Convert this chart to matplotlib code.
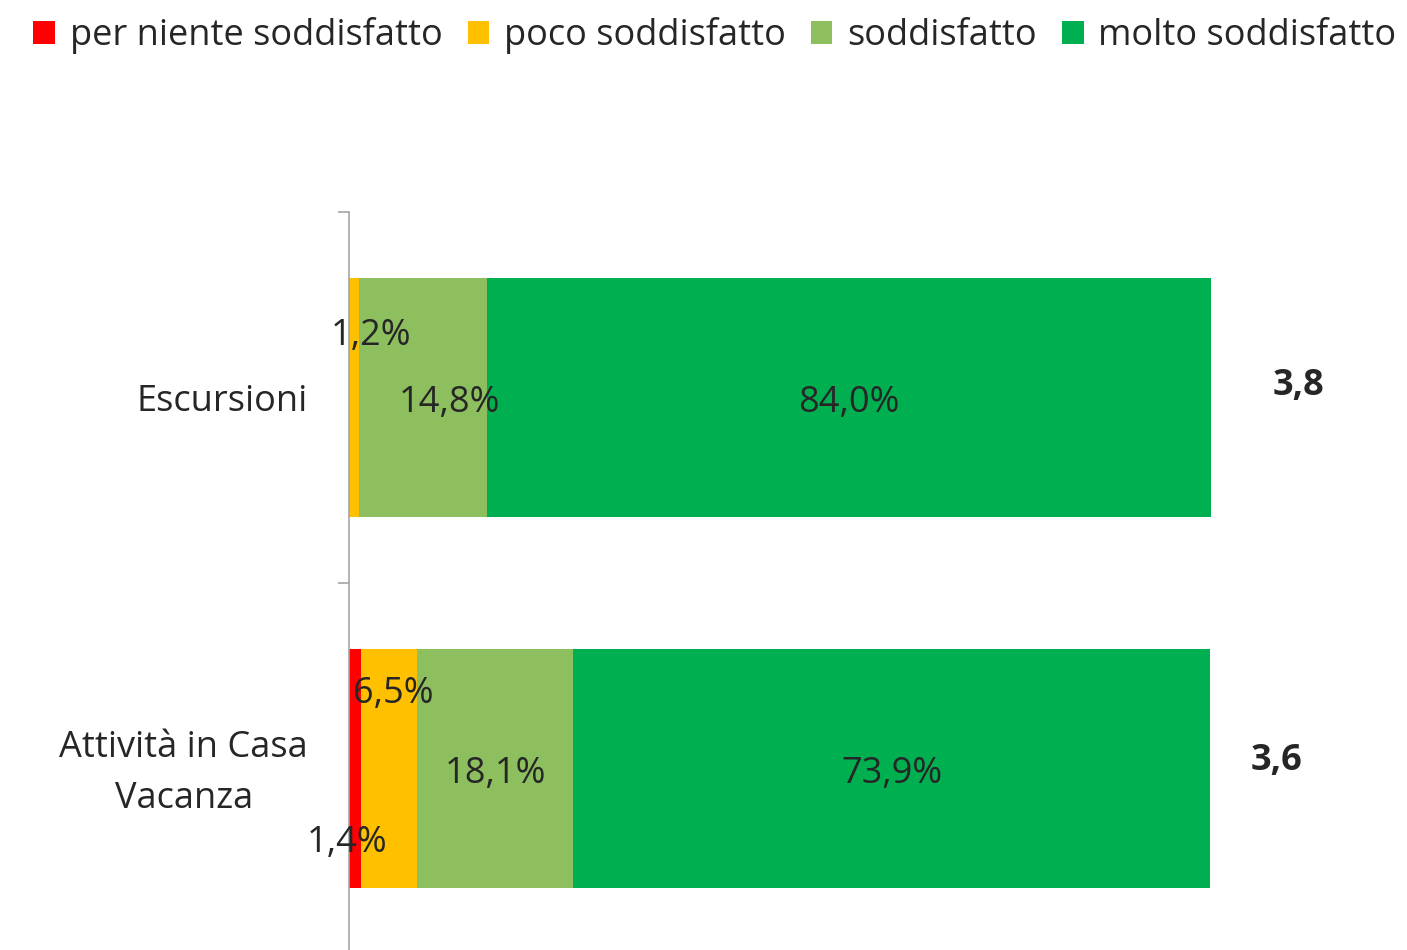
import matplotlib.pyplot as plt
import matplotlib.transforms as mtransforms
import numpy as np
from matplotlib.patches import Patch

plt.rcParams['font.family'] = ['Open Sans', 'DejaVu Sans']

categories = ["Escursioni", "Attività in Casa\nVacanza"]
series_names = ["per niente soddisfatto", "poco soddisfatto", "soddisfatto", "molto soddisfatto"]
per_niente = [0.0, 1.4]
poco = [1.2, 6.5]
soddisfatto = [14.8, 18.1]
molto = [84.0, 73.9]
scores = ["3,8", "3,6"]

colors = ["#FF0000", "#FFC000", "#8DBF5F", "#00B050"]
txt = "#262626"
fs = 26

values = [per_niente, poco, soddisfatto, molto]
# label offsets (x in %, y in category units) to mimic the original placement
offsets = {
    (0, 1): (2.0, -0.18),
    (0, 2): (3.1, 0.0),
    (1, 0): (-0.9, 0.185),
    (1, 1): (0.5, -0.215),
}

fig = plt.figure(figsize=(14.07, 9.5), dpi=100)
ax = fig.add_axes([349 / 1407, -4 / 950, 862 / 1407, 742 / 950])

y = np.arange(len(categories))
left = np.zeros(len(categories))
for s, vals in enumerate(values):
    vals = np.array(vals)
    ax.barh(y, vals, left=left, height=0.645, color=colors[s], label=series_names[s])
    for i, v in enumerate(vals):
        if v <= 0:
            continue
        dx, dy = offsets.get((i, s), (0.0, 0.0))
        ax.text(left[i] + v / 2 + dx, y[i] + dy + 0.015, f"{v:.1f}%".replace(".", ","),
                ha="center", va="center", fontsize=fs, color=txt)
    left += vals

score_x = [110.2, 107.6]
score_dy = [-0.032, -0.02]
for i, sc in enumerate(scores):
    ax.text(score_x[i], y[i] + score_dy[i], sc, ha="center", va="center",
            fontsize=fs, fontweight="bold", color=txt)

ax.set_xlim(0, 100)
ax.set_ylim(1.5, -0.5)
ax.set_xticks([])
ax.set_yticks(y)
ax.set_yticklabels(categories, fontsize=fs, color=txt, multialignment="center",
                   linespacing=1.55)
ax.tick_params(axis="y", which="major", length=0, pad=29.5)
# nudge the two-line label up a little, as in the original
lab = ax.get_yticklabels()[1]
lab.set_transform(lab.get_transform() + mtransforms.ScaledTranslation(0, 7 / 100, fig.dpi_scale_trans))
ax.set_yticks([-0.5, 0.5, 1.5], minor=True)
ax.tick_params(axis="y", which="minor", length=8, color="#A6A6A6", width=1.2)
for sp in ["top", "right", "bottom"]:
    ax.spines[sp].set_visible(False)
ax.spines["left"].set_color("#A6A6A6")
ax.spines["left"].set_linewidth(1.2)

handles = [Patch(facecolor=c, label=n) for c, n in zip(colors, series_names)]
fig.legend(handles=handles, loc="upper center", bbox_to_anchor=(0.508, 1.016), ncol=4,
           frameon=False, fontsize=fs, handlelength=0.6, handleheight=0.6,
           handletextpad=0.4, columnspacing=0.7, labelcolor=txt)

fig.savefig("out.png", dpi=100)
